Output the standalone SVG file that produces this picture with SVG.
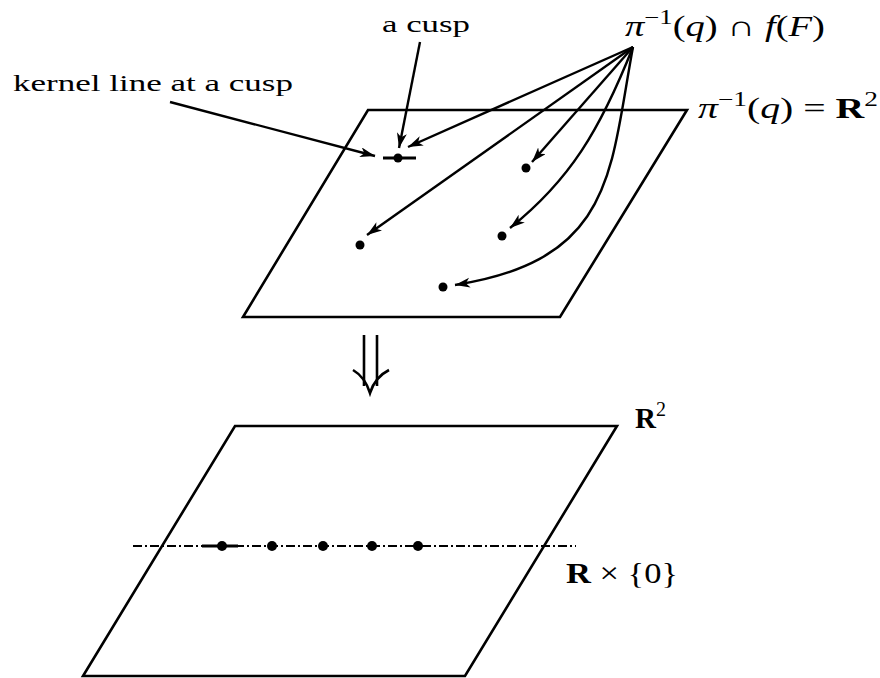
<svg xmlns="http://www.w3.org/2000/svg" width="880" height="678" viewBox="0 0 880 678">
<style>
.edge{fill:none;stroke:#000;stroke-width:2.6;stroke-linejoin:miter}
.arr{fill:none;stroke:#000;stroke-width:2.4;marker-end:url(#ah)}
.dot{fill:#000}
.kl{stroke:#000;stroke-width:3}
.t{font-family:"Liberation Serif","DejaVu Serif",serif;font-size:24px;fill:#000}
.m{font-family:"Liberation Serif","DejaVu Serif",serif;font-size:29px;fill:#000}
.i{font-style:italic}
.b{font-weight:bold}
.sup{font-size:20px}
</style>
<defs>
<marker id="ah" markerUnits="userSpaceOnUse" markerWidth="17" markerHeight="12" refX="15" refY="5" orient="auto">
<path d="M0,0 L15,5 L0,10 L4,5 z" fill="#000"/>
</marker>
</defs>
<rect width="880" height="678" fill="#fff"/>

<g id="upper-plane">
<path class="edge" d="M368,110 L687,110 L560,317 L243,317 Z"/>
<line class="kl" x1="383" y1="158" x2="416" y2="158"/>
<circle class="dot" cx="398" cy="158" r="4.5"/>
<circle class="dot" cx="526" cy="168" r="4.5"/>
<circle class="dot" cx="360" cy="245" r="4.5"/>
<circle class="dot" cx="502" cy="236" r="4.5"/>
<circle class="dot" cx="443" cy="287" r="4.5"/>
</g>

<g id="lower-plane">
<path class="edge" d="M235,426 L617,426 L465,676 L83,676 Z"/>
<line x1="133" y1="546" x2="576" y2="546" stroke="#000" stroke-width="2" stroke-dasharray="9,3,2,3"/>
<line class="kl" x1="202" y1="546" x2="238" y2="546"/>
<circle class="dot" cx="222" cy="546" r="5"/>
<circle class="dot" cx="272" cy="546" r="5"/>
<circle class="dot" cx="323" cy="546" r="5"/>
<circle class="dot" cx="372" cy="546" r="5"/>
<circle class="dot" cx="418" cy="546" r="5"/>
</g>

<g id="projection-arrow" fill="none" stroke="#000" stroke-width="2.6">
<line x1="364" y1="335" x2="364" y2="386"/>
<line x1="377" y1="335" x2="377" y2="386"/>
<path d="M353,370 Q365,377 370,393 Q375,377 389,370"/>
</g>

<g id="connectors">
<path class="arr" d="M170,102 L375,156"/>
<path class="arr" d="M420,42 L399,148"/>
<path class="arr" d="M633,47 L408,147"/>
<path class="arr" d="M633,47 L367,235"/>
<path class="arr" d="M633,47 L532,162"/>
<path class="arr" d="M633,47 C600,130 570,180 510,228"/>
<path class="arr" d="M633,47 C610,170 615,260 455,285"/>
</g>

<g id="labels">
<text id="lbl-kernel" class="t" x="13" y="91" textLength="280" lengthAdjust="spacingAndGlyphs">kernel line at a cusp</text>
<text id="lbl-cusp" class="t" x="382" y="32" textLength="88" lengthAdjust="spacingAndGlyphs">a cusp</text>
<text id="lbl-preimage" class="m" x="625" y="36" textLength="200" lengthAdjust="spacingAndGlyphs"><tspan class="i">π</tspan><tspan class="sup" dy="-12">−1</tspan><tspan dy="12">(</tspan><tspan class="i">q</tspan><tspan>) ∩ </tspan><tspan class="i">f</tspan><tspan>(</tspan><tspan class="i">F</tspan><tspan>)</tspan></text>
<text id="lbl-fiber" class="m" x="698" y="118" textLength="180" lengthAdjust="spacingAndGlyphs"><tspan class="i">π</tspan><tspan class="sup" dy="-12">−1</tspan><tspan dy="12">(</tspan><tspan class="i">q</tspan><tspan>) = </tspan><tspan class="b">R</tspan><tspan class="sup" dy="-12">2</tspan></text>
<text id="lbl-R2" class="m" x="635" y="428"><tspan class="b">R</tspan><tspan class="sup" dy="-12">2</tspan></text>
<text id="lbl-Rx0" class="m" x="566" y="583" textLength="112" lengthAdjust="spacingAndGlyphs"><tspan class="b">R</tspan><tspan> × {0}</tspan></text>
</g>
</svg>
